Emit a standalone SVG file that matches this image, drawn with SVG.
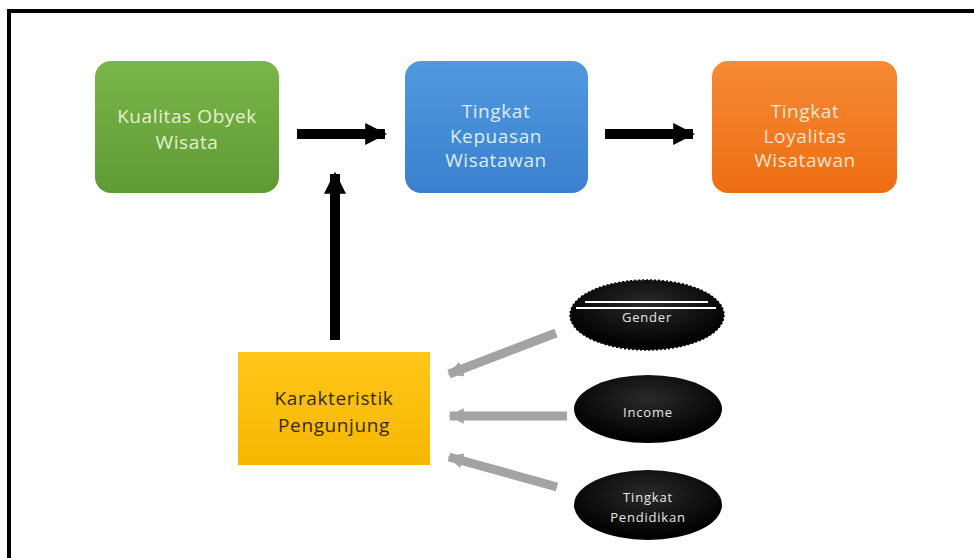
<svg xmlns="http://www.w3.org/2000/svg" width="974" height="558" viewBox="0 0 974 558">
<defs>
<linearGradient id="gGreen" x1="0" y1="0" x2="0" y2="1"><stop offset="0" stop-color="#79b548"/><stop offset="1" stop-color="#5f9b34"/></linearGradient>
<linearGradient id="gBlue" x1="0" y1="0" x2="0" y2="1"><stop offset="0" stop-color="#5199de"/><stop offset="1" stop-color="#3a80cf"/></linearGradient>
<linearGradient id="gOrange" x1="0" y1="0" x2="0" y2="1"><stop offset="0" stop-color="#f68a35"/><stop offset="1" stop-color="#ee6d13"/></linearGradient>
<linearGradient id="gYellow" x1="0" y1="0" x2="0" y2="1"><stop offset="0" stop-color="#ffc61a"/><stop offset="1" stop-color="#f6b700"/></linearGradient>
<radialGradient id="gBlack" cx="0.5" cy="0.35" r="0.6"><stop offset="0" stop-color="#2a2a2a"/><stop offset="1" stop-color="#000"/></radialGradient>
<marker id="hBlack" viewBox="0 0 10 10" refX="9" refY="5" markerWidth="2.2" markerHeight="2.2" orient="auto" markerUnits="strokeWidth"><path d="M0,0 L10,5 L0,10 Z" fill="#000"/></marker>
<marker id="hGray" viewBox="0 0 10 10" refX="9" refY="5" markerWidth="1.7" markerHeight="1.7" orient="auto" markerUnits="strokeWidth"><path d="M0,0 L10,5 L0,10 Z" fill="#a3a3a3"/></marker>
</defs>
<style>
.box text{font-family:"Open Sans","Liberation Sans",sans-serif;font-size:19px;letter-spacing:0.6px;text-anchor:middle}
.ell text{font-family:"Open Sans","Liberation Sans",sans-serif;font-size:13px;letter-spacing:0.8px;fill:#e6e6e6;text-anchor:middle}
.blk{stroke:#000;stroke-width:10;fill:none}
.gry{stroke:#a3a3a3;stroke-width:9;fill:none}
</style>
<rect width="974" height="558" fill="#fff"/>
<path d="M9,558 V11 H974" fill="none" stroke="#000" stroke-width="4"/>
<g id="connectors">
<line class="blk" x1="297" y1="134" x2="385" y2="134" marker-end="url(#hBlack)"/>
<line class="blk" x1="605" y1="134" x2="693" y2="134" marker-end="url(#hBlack)"/>
<line class="blk" x1="335" y1="340" x2="335" y2="174" marker-end="url(#hBlack)"/>
<line class="gry" x1="556" y1="333" x2="449" y2="374" marker-end="url(#hGray)"/>
<line class="gry" x1="567" y1="416" x2="450" y2="416" marker-end="url(#hGray)"/>
<line class="gry" x1="557" y1="487" x2="449" y2="457" marker-end="url(#hGray)"/>
</g>
<g id="node-kualitas" class="box">
<rect x="95" y="61" width="184" height="132" rx="16" fill="url(#gGreen)"/>
<text x="187" y="123" fill="#e3f2cf">Kualitas Obyek</text>
<text x="187" y="149" fill="#e3f2cf">Wisata</text>
</g>
<g id="node-kepuasan" class="box">
<rect x="405" y="61" width="183" height="132" rx="16" fill="url(#gBlue)"/>
<text x="496" y="118" fill="#dcedfb">Tingkat</text>
<text x="496" y="143" fill="#dcedfb">Kepuasan</text>
<text x="496" y="167" fill="#dcedfb">Wisatawan</text>
</g>
<g id="node-loyalitas" class="box">
<rect x="712" y="61" width="185" height="132" rx="16" fill="url(#gOrange)"/>
<text x="805" y="118" fill="#fde3cc">Tingkat</text>
<text x="805" y="143" fill="#fde3cc">Loyalitas</text>
<text x="805" y="167" fill="#fde3cc">Wisatawan</text>
</g>
<g id="node-karakteristik" class="box">
<rect x="238" y="352" width="192" height="113" fill="url(#gYellow)"/>
<text x="334" y="405" fill="#3a2a00">Karakteristik</text>
<text x="334" y="432" fill="#3a2a00">Pengunjung</text>
</g>
<g id="node-gender" class="ell">
<ellipse cx="647" cy="315" rx="77" ry="35" fill="url(#gBlack)" stroke="#000" stroke-width="1.5" stroke-dasharray="2 2"/>
<line x1="585" y1="302" x2="708" y2="302" stroke="#fff" stroke-width="2"/>
<line x1="576" y1="308" x2="716" y2="308" stroke="#fff" stroke-width="2"/>
<text x="647" y="322">Gender</text>
</g>
<g id="node-income" class="ell">
<ellipse cx="648" cy="409" rx="74" ry="34" fill="url(#gBlack)"/>
<text x="648" y="417">Income</text>
</g>
<g id="node-pendidikan" class="ell">
<ellipse cx="648" cy="505" rx="74" ry="35" fill="url(#gBlack)"/>
<text x="648" y="502">Tingkat</text>
<text x="648" y="522">Pendidikan</text>
</g>
</svg>
